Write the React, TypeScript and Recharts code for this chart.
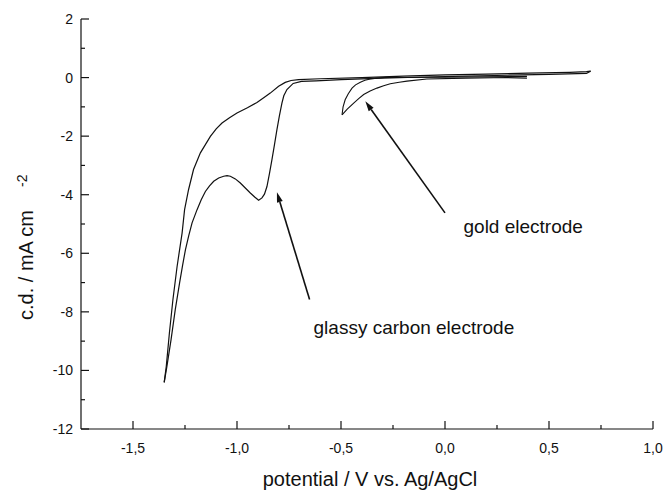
import React from "react";
import { LineChart, Line, XAxis, YAxis, ReferenceLine, ReferenceDot } from "recharts";

// cyclic voltammograms, [potential V, current density mA/cm2]
const GLASSY_CATHODIC: [number, number][] = [
  [0.70, 0.22], [0.68, 0.14], [0.5, 0.11], [0.3, 0.08], [0.1, 0.05], [-0.1, 0.02],
  [-0.3, -0.02], [-0.5, -0.07], [-0.62, -0.11], [-0.69, -0.13], [-0.73, -0.2],
  [-0.76, -0.41], [-0.775, -0.62], [-0.784, -0.87], [-0.796, -1.3], [-0.808, -1.78],
  [-0.82, -2.3], [-0.832, -2.8], [-0.844, -3.28], [-0.856, -3.72], [-0.868, -3.98],
  [-0.88, -4.11], [-0.896, -4.19], [-0.915, -4.08], [-0.936, -3.94], [-0.96, -3.77],
  [-0.984, -3.6], [-1.008, -3.46], [-1.032, -3.37], [-1.048, -3.35], [-1.064, -3.37],
  [-1.088, -3.43], [-1.112, -3.54], [-1.132, -3.7], [-1.152, -3.89], [-1.172, -4.17],
  [-1.192, -4.51], [-1.216, -4.96], [-1.232, -5.4], [-1.248, -5.88], [-1.262, -6.43],
  [-1.276, -7.01], [-1.297, -7.93], [-1.317, -8.95], [-1.337, -9.86], [-1.35, -10.41],
];

const GLASSY_ANODIC: [number, number][] = [
  [-1.35, -10.41], [-1.34, -9.86], [-1.325, -8.72], [-1.308, -7.58], [-1.288, -6.45],
  [-1.264, -5.31], [-1.252, -4.51], [-1.233, -3.83], [-1.209, -3.14], [-1.176, -2.57],
  [-1.128, -2.01], [-1.1, -1.75], [-1.072, -1.55], [-1.036, -1.37], [-1.0, -1.21],
  [-0.95, -1.03], [-0.904, -0.85], [-0.87, -0.68], [-0.84, -0.53], [-0.8, -0.3],
  [-0.768, -0.165], [-0.74, -0.1], [-0.704, -0.07], [-0.6, -0.04], [-0.4, 0.0],
  [-0.2, 0.05], [0.0, 0.09], [0.2, 0.12], [0.4, 0.15], [0.6, 0.18], [0.68, 0.2], [0.70, 0.22],
];

const GOLD_CATHODIC: [number, number][] = [
  [0.394, 0.04], [0.2, 0.03], [0.0, 0.01], [-0.2, 0.0], [-0.279, 0.01], [-0.33, -0.02],
  [-0.359, -0.05], [-0.385, -0.09], [-0.407, -0.16], [-0.43, -0.25], [-0.447, -0.36],
  [-0.465, -0.55], [-0.48, -0.76], [-0.49, -1.0], [-0.495, -1.27],
];

const GOLD_ANODIC: [number, number][] = [
  [-0.495, -1.27], [-0.47, -1.08], [-0.439, -0.87], [-0.415, -0.72], [-0.391, -0.58],
  [-0.36, -0.46], [-0.327, -0.36], [-0.295, -0.28], [-0.263, -0.21], [-0.22, -0.16],
  [-0.183, -0.12], [-0.087, -0.05], [0.1, -0.02], [0.3, 0.0], [0.394, -0.02],
];

const X_TICKS = [-1.5, -1.25, -1.0, -0.75, -0.5, -0.25, 0, 0.25, 0.5, 0.75, 1.0];
const Y_TICKS = [-12, -11, -10, -9, -8, -7, -6, -5, -4, -3, -2, -1, 0, 1, 2];

// annotations: [tail, head] of arrows, and label anchors
const GOLD_ARROW: [number, number][] = [[0.0, -4.62], [-0.383, -0.81]];
const GLASSY_ARROW: [number, number][] = [[-0.651, -7.58], [-0.808, -3.92]];
const GOLD_LABEL = { x: 0.089, y: -5.31, text: "gold electrode" };
const GLASSY_LABEL = { x: -0.632, y: -8.74, text: "glassy carbon electrode" };

const FONT = "'Liberation Sans', Arial, Helvetica, sans-serif";
const INK = "#111";

const toRows = (pts: [number, number][]) => pts.map(([x, y]) => ({ x, y }));

const isMajorX = (v: number) => Math.abs(v * 2 - Math.round(v * 2)) < 1e-6;

const XTick = (props: any) => {
  const { x, y, payload } = props;
  const major = isMajorX(payload.value);
  return (
    <g>
      <line x1={x} y1={y} x2={x} y2={y - (major ? 8 : 4)} stroke={INK} strokeWidth={1.2} />
      {major && (
        <text x={x} y={y + 24} textAnchor="middle" fontSize={14} fontFamily={FONT} fill={INK}>
          {payload.value.toFixed(1).replace(".", ",")}
        </text>
      )}
    </g>
  );
};

const YTick = (props: any) => {
  const { x, y, payload } = props;
  const major = payload.value % 2 === 0;
  return (
    <g>
      <line x1={x} y1={y} x2={x + (major ? 8 : 4)} y2={y} stroke={INK} strokeWidth={1.2} />
      {major && (
        <text x={x - 8} y={y + 5} textAnchor="end" fontSize={14} fontFamily={FONT} fill={INK}>
          {payload.value}
        </text>
      )}
    </g>
  );
};

const arrowShape = (props: any) => {
  const { x1, y1, x2, y2 } = props;
  const ang = Math.atan2(y2 - y1, x2 - x1);
  const len = 10;
  const half = 3;
  const bx = x2 - len * Math.cos(ang);
  const by = y2 - len * Math.sin(ang);
  const px = -Math.sin(ang) * half;
  const py = Math.cos(ang) * half;
  return (
    <g>
      <line x1={x1} y1={y1} x2={bx} y2={by} stroke={INK} strokeWidth={1.6} />
      <polygon points={`${x2},${y2} ${bx + px},${by + py} ${bx - px},${by - py}`} fill={INK} />
    </g>
  );
};

const textShape = (text: string) => (props: any) => (
  <text x={props.cx} y={props.cy} fontSize={19} fontFamily={FONT} fill={INK}>
    {text}
  </text>
);

const XTitle = (props: any) => {
  const vb = props.viewBox;
  return (
    <text x={vb.x + vb.width / 2 + 3} y={vb.y + 57} textAnchor="middle" fontSize={20} fontFamily={FONT} fill={INK}>
      potential / V vs. Ag/AgCl
    </text>
  );
};

const YTitle = (props: any) => {
  const vb = props.viewBox;
  const x = 33;
  const y = vb.y + vb.height / 2 + 96;
  return (
    <text x={x} y={y} transform={`rotate(-90, ${x}, ${y})`} fontSize={20} fontFamily={FONT} fill={INK}>
      c.d. / mA cm
      <tspan dx={23} dy={-6} fontSize={14}>-2</tspan>
    </text>
  );
};

export default function App() {
  return (
    <div style={{ position: "absolute", left: 0, top: 0, background: "#fff" }}>
      <LineChart width={663} height={493} margin={{ top: 19, right: 10, left: 0, bottom: 0 }}>
        <XAxis
          type="number"
          dataKey="x"
          domain={[-1.75, 1.0]}
          ticks={X_TICKS}
          interval={0}
          allowDataOverflow
          height={64}
          tickSize={0}
          tickMargin={0}
          tickLine={false}
          tick={<XTick />}
          axisLine={{ stroke: INK, strokeWidth: 1.2 }}
          label={{ content: <XTitle /> }}
        />
        <YAxis
          type="number"
          domain={[-12, 2]}
          ticks={Y_TICKS}
          interval={0}
          allowDataOverflow
          width={81}
          tickSize={0}
          tickMargin={0}
          tickLine={false}
          tick={<YTick />}
          axisLine={{ stroke: INK, strokeWidth: 1.2 }}
          label={{ content: <YTitle /> }}
        />
        <Line data={toRows(GLASSY_CATHODIC)} dataKey="y" type="linear" stroke={INK} strokeWidth={1.2} dot={false} isAnimationActive={false} />
        <Line data={toRows(GLASSY_ANODIC)} dataKey="y" type="linear" stroke={INK} strokeWidth={1.2} dot={false} isAnimationActive={false} />
        <Line data={toRows(GOLD_CATHODIC)} dataKey="y" type="linear" stroke={INK} strokeWidth={1.1} dot={false} isAnimationActive={false} />
        <Line data={toRows(GOLD_ANODIC)} dataKey="y" type="linear" stroke={INK} strokeWidth={1.1} dot={false} isAnimationActive={false} />
        <ReferenceLine
          segment={GOLD_ARROW.map(([x, y]) => ({ x, y }))}
          shape={arrowShape}
        />
        <ReferenceLine
          segment={GLASSY_ARROW.map(([x, y]) => ({ x, y }))}
          shape={arrowShape}
        />
        <ReferenceDot x={GOLD_LABEL.x} y={GOLD_LABEL.y} r={0} shape={textShape(GOLD_LABEL.text)} />
        <ReferenceDot x={GLASSY_LABEL.x} y={GLASSY_LABEL.y} r={0} shape={textShape(GLASSY_LABEL.text)} />
      </LineChart>
    </div>
  );
}
